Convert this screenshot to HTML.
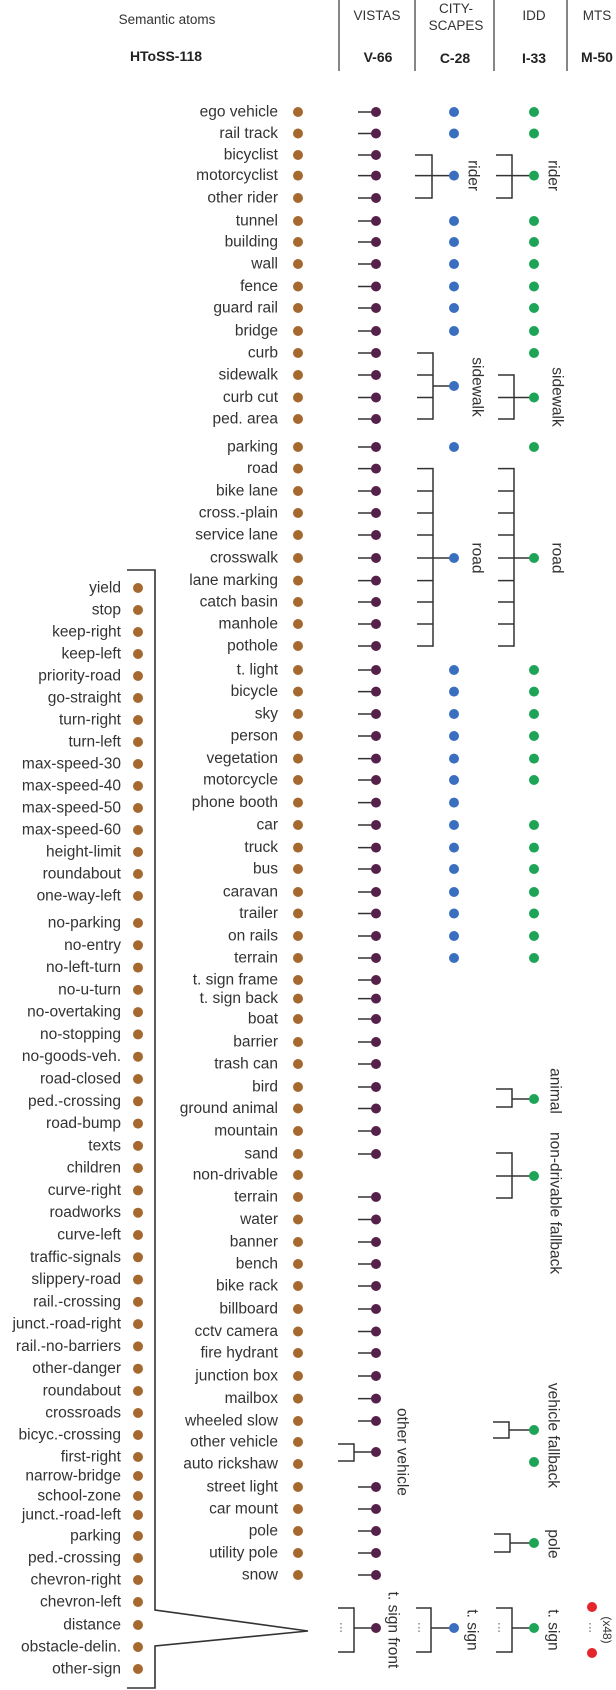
<!DOCTYPE html>
<html><head><meta charset="utf-8">
<style>
html,body{margin:0;padding:0;background:#fff;}
svg{display:block;font-family:"Liberation Sans",sans-serif;}
</style></head>
<body>
<svg id="chart" width="616" height="1690" viewBox="0 0 616 1690" xmlns="http://www.w3.org/2000/svg">
<g fill="#333" font-size="13.5" text-anchor="middle">
  <text x="167" y="24">Semantic atoms</text>
  <text x="166" y="61" font-weight="bold" font-size="14" fill="#222">HToSS-118</text>
  <text x="377" y="20">VISTAS</text>
  <text x="456" y="13">CITY-</text>
  <text x="456" y="30">SCAPES</text>
  <text x="534" y="20">IDD</text>
  <text x="597" y="20">MTS</text>
  <text x="378" y="62" font-weight="bold" font-size="14" fill="#222">V-66</text>
  <text x="455" y="63" font-weight="bold" font-size="14" fill="#222">C-28</text>
  <text x="534" y="63" font-weight="bold" font-size="14" fill="#222">I-33</text>
  <text x="597" y="62" font-weight="bold" font-size="14" fill="#222">M-50</text>
  <g stroke="#444" stroke-width="1.3">
    <line x1="339" y1="0" x2="339" y2="71"/>
    <line x1="415" y1="0" x2="415" y2="71"/>
    <line x1="494" y1="0" x2="494" y2="71"/>
    <line x1="567" y1="0" x2="567" y2="71"/>
  </g>
</g>
</svg>
<script>
const rowLabels = ["ego vehicle","rail track","bicyclist","motorcyclist","other rider","tunnel","building","wall","fence","guard rail","bridge","curb","sidewalk","curb cut","ped. area","parking","road","bike lane","cross.-plain","service lane","crosswalk","lane marking","catch basin","manhole","pothole","t. light","bicycle","sky","person","vegetation","motorcycle","phone booth","car","truck","bus","caravan","trailer","on rails","terrain","t. sign frame","t. sign back","boat","barrier","trash can","bird","ground animal","mountain","sand","non-drivable","terrain","water","banner","bench","bike rack","billboard","cctv camera","fire hydrant","junction box","mailbox","wheeled slow","other vehicle","auto rickshaw","street light","car mount","pole","utility pole","snow"];
const rowY = [112,133.5,155,175.6,198,221,242,264,286.5,308,331,353,375,397.5,419,447,468.6,491,513,535,558,580.6,602,624,646,670,691.6,714,736,758.6,780,802.6,825,847.6,869,892,913.5,936,958,980,998.6,1019,1042,1064,1087,1108.5,1131,1154,1175,1197,1219.5,1242,1264,1286,1309,1331.5,1353,1376,1398.6,1421,1442,1464,1487,1509,1531,1553,1575];
const vistasMember = rowLabels.map((l,i)=> !(i===48 || i===60 || i===61));
const csSingle = [0,1,5,6,7,8,9,10,15,25,26,27,28,29,30,31,32,33,34,35,36,37,38];
const iddSingle = [0,1,5,6,7,8,9,10,11,15,25,26,27,28,29,30,32,33,34,35,36,37,38];
const signLabels = ["yield","stop","keep-right","keep-left","priority-road","go-straight","turn-right","turn-left","max-speed-30","max-speed-40","max-speed-50","max-speed-60","height-limit","roundabout","one-way-left","no-parking","no-entry","no-left-turn","no-u-turn","no-overtaking","no-stopping","no-goods-veh.","road-closed","ped.-crossing","road-bump","texts","children","curve-right","roadworks","curve-left","traffic-signals","slippery-road","rail.-crossing","junct.-road-right","rail.-no-barriers","other-danger","roundabout","crossroads","bicyc.-crossing","first-right","narrow-bridge","school-zone","junct.-road-left","parking","ped.-crossing","chevron-right","chevron-left","distance","obstacle-delin.","other-sign"];
const signTail = [1391,1413,1435,1457,1476,1496,1515,1536,1558,1580,1602,1625,1647,1669];

const NS = "http://www.w3.org/2000/svg";
const svg = document.getElementById('chart');
const BROWN="#a5692f", PURPLE="#55204a", BLUE="#3a6fc0", GREEN="#1ea456", RED="#e3262b", LINE="#333";
function mk(tag, attrs, name, parent){
  const el = document.createElementNS(NS, tag);
  for (const k in attrs) el.setAttribute(k, attrs[k]);
  
  
  (parent||svg).appendChild(el);
  return el;
}
function dot(x,y,c,name){ return mk('circle',{cx:x,cy:y,r:5,fill:c},name); }
function line(x1,y1,x2,y2,name,w){ return mk('line',{x1,y1,x2,y2,stroke:LINE,'stroke-width':w||1.5},name); }
function txt(x,y,s,name,opts){
  const o = Object.assign({x,y,fill:'#333','font-size':15.5,'dominant-baseline':'central'},opts||{});
  const t = mk('text',o,name);
  t.textContent = s;
  return t;
}
function vtxt(x,y,s,name,anchor,size){
  return txt(x,y,s,name,{'text-anchor':anchor||'middle',transform:`rotate(90 ${x} ${y})`,'font-size':size||15.5});
}
function bracket(xL,xR,ys,yDot,xDot,color,name){
  ys.forEach((y,i)=>line(xL,y,xR,y,name+'-tick-'+i));
  line(xR,Math.min(...ys)-0.7,xR,Math.max(...ys)+0.7,name+'-spine');
  line(xR,yDot,xDot,yDot,name+'-stem');
  if(color) dot(xDot,yDot,color,name+'-dot');
}

rowLabels.forEach((l,i)=>{
  const y = rowY[i];
  txt(278,y,l,'atom-label-'+i,{'text-anchor':'end'});
  dot(298,y,BROWN,'atom-dot-'+i);
  if(vistasMember[i]){
    line(358,y,376,y,'vistas-link-'+i);
    dot(376,y,PURPLE,'vistas-dot-'+i);
  }
});
csSingle.forEach(i=>dot(454,rowY[i],BLUE,'cityscapes-dot-'+i));
iddSingle.forEach(i=>dot(534,rowY[i],GREEN,'idd-dot-'+i));

bracket(415,432,[rowY[2],rowY[3],rowY[4]],rowY[3],454,BLUE,'cs-rider-bracket');
vtxt(473,rowY[3],'rider','cs-rider-label');
bracket(496,512,[rowY[2],rowY[3],rowY[4]],rowY[3],534,GREEN,'idd-rider-bracket');
vtxt(553,rowY[3],'rider','idd-rider-label');
bracket(417,433,[rowY[11],rowY[12],rowY[13],rowY[14]],386,454,BLUE,'cs-sidewalk-bracket');
vtxt(477,387,'sidewalk','cs-sidewalk-label');
bracket(498,514,[rowY[12],rowY[13],rowY[14]],rowY[13],534,GREEN,'idd-sidewalk-bracket');
vtxt(557,397,'sidewalk','idd-sidewalk-label');
const roadRows = rowY.slice(16,25);
bracket(417,433,roadRows,rowY[20],454,BLUE,'cs-road-bracket');
vtxt(477,rowY[20],'road','cs-road-label');
bracket(498,514,roadRows,rowY[20],534,GREEN,'idd-road-bracket');
vtxt(557,rowY[20],'road','idd-road-label');
bracket(496,512,[1089,1107],1099,534,GREEN,'idd-animal-bracket');
vtxt(555,1091,'animal','idd-animal-label');
bracket(496,512,[1153,1176,1198],1176,534,GREEN,'idd-nondrivable-bracket');
vtxt(555,1132,'non-drivable fallback','idd-nondrivable-label','start');
bracket(493,509,[1422,1438],1430,534,GREEN,'idd-vehicle-fallback-bracket');
dot(534,1462,GREEN,'idd-vehicle-fallback-dot-2');
vtxt(553,1488,'vehicle fallback','idd-vehicle-fallback-label','end');
bracket(494,510,[1534,1552],1543,534,GREEN,'idd-pole-bracket');
vtxt(553,1544,'pole','idd-pole-label');
bracket(338,354,[1444,1461],1452,376,PURPLE,'vistas-other-vehicle-bracket');
vtxt(402,1452,'other vehicle','vistas-other-vehicle-label');

bracket(338,354,[1608,1652],1628,376,PURPLE,'vistas-tsign-bracket');
txt(341,1628,'⋮','vistas-tsign-ellipsis',{'text-anchor':'middle','font-size':11,fill:'#666'});
vtxt(393,1630,'t. sign front','vistas-tsign-label');
bracket(416,431,[1608,1652],1628,454,BLUE,'cs-tsign-bracket');
txt(419,1628,'⋮','cs-tsign-ellipsis',{'text-anchor':'middle','font-size':11,fill:'#666'});
vtxt(472,1630,'t. sign','cs-tsign-label');
bracket(496,512,[1608,1652],1628,534,GREEN,'idd-tsign-bracket');
txt(499,1628,'⋮','idd-tsign-ellipsis',{'text-anchor':'middle','font-size':11,fill:'#666'});
vtxt(553,1630,'t. sign','idd-tsign-label');
dot(592,1607,RED,'mts-sign-dot-first');
dot(592,1653,RED,'mts-sign-dot-last');
txt(590,1628,'⋮','mts-sign-ellipsis',{'text-anchor':'middle','font-size':11,fill:'#666'});
vtxt(607,1630,'(x48)','mts-x48-label','middle',12);

signLabels.forEach((l,i)=>{
  let y;
  if(i<=14) y = 588 + i*22;
  else if(i<=36) y = 923 + (i-15)*(1391-923)/21;
  else y = signTail[i-36];
  txt(121,y,l,'sign-label-'+i,{'text-anchor':'end'});
  dot(138,y,BROWN,'sign-dot-'+i);
});
mk('polyline',{points:'127,570 155,570 155,1610 308,1631 155,1646 155,1688 127,1688',fill:'none',stroke:LINE,'stroke-width':1.6},'sign-expansion-bracket');
</script>
</body></html>
